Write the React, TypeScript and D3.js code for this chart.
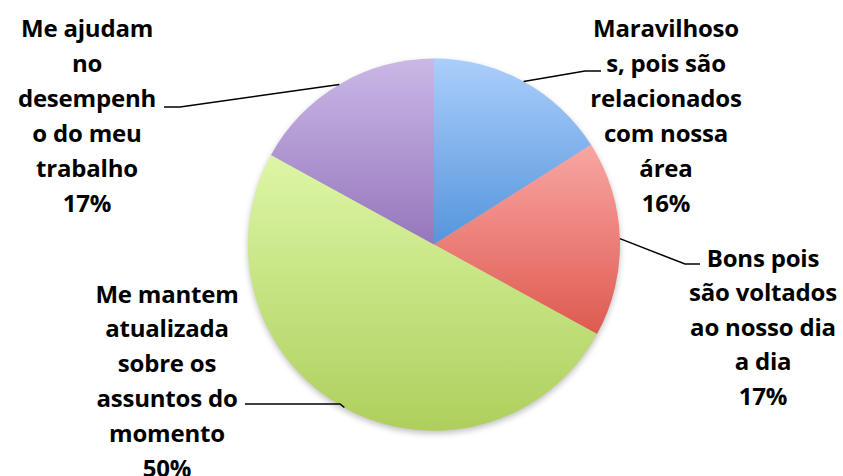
import React from "react";
import * as d3 from "d3";

const categories = [
  "Maravilhosos, pois são relacionados com nossa área",
  "Bons pois são voltados ao nosso dia a dia",
  "Me mantem atualizada sobre os assuntos do momento",
  "Me ajudam no desempenho do meu trabalho",
];
const values = [16, 17, 50, 17];
const labelLines = [
  ["Maravilhoso", "s, pois são", "relacionados", "com nossa", "área", "16%"],
  ["Bons pois", "são voltados", "ao nosso dia", "a dia", "17%"],
  ["Me mantem", "atualizada", "sobre os", "assuntos do", "momento", "50%"],
  ["Me ajudam", "no", "desempenh", "o do meu", "trabalho", "17%"],
];
const colorsTop = ["#abcefb", "#f9a6a3", "#ddf6a6", "#cab8e6"];
const colorsBottom = ["#5595dc", "#de5a50", "#aecf5c", "#9676bd"];

const W = 843;
const H = 476;
const cx = 434;
const cy = 244.5;
const R = 186;

const labelLayout = [
  { x: 666, y: 27, dy: 35, elbowX: 585, elbowY: 71, endX: 601 },
  { x: 763, y: 257, dy: 34.5, elbowX: 685, elbowY: 264, endX: 700 },
  { x: 167, y: 293, dy: 34.8, elbowX: 340, elbowY: 404, endX: 245 },
  { x: 87, y: 27, dy: 35, elbowX: 180, elbowY: 107, endX: 164 },
];

export default function App() {
  const pie = d3.pie<number>().sort(null).value((d) => d)(values);
  const arc = d3.arc<d3.PieArcDatum<number>>().innerRadius(0).outerRadius(R);
  return (
    <svg
      width={W}
      height={H}
      style={{ position: "absolute", left: 0, top: 0, background: "#fff" }}
      fontFamily="'Open Sans', Lato, sans-serif"
      fontWeight="bold"
    >
      <defs>
        {values.map((_, i) => (
          <linearGradient key={i} id={`g${i}`} x1="0" y1="0" x2="0" y2="1">
            <stop offset="0" stopColor={colorsTop[i]} />
            <stop offset="1" stopColor={colorsBottom[i]} />
          </linearGradient>
        ))}
        <filter id="sh" x="-20%" y="-20%" width="140%" height="140%">
          <feGaussianBlur stdDeviation="3" />
        </filter>
      </defs>
      <circle cx={cx} cy={cy + 3} r={R} fill="#000" opacity={0.25} filter="url(#sh)" />
      <g transform={`translate(${cx},${cy})`}>
        {pie.map((d, i) => (
          <path key={categories[i]} d={arc(d) || ""} fill={`url(#g${i})`} />
        ))}
      </g>
      {pie.map((d, i) => {
        const mid = (d.startAngle + d.endAngle) / 2;
        const px = cx + R * Math.sin(mid);
        const py = cy - R * Math.cos(mid);
        const L = labelLayout[i];
        return (
          <g key={"l" + i}>
            <polyline
              points={`${px},${py} ${L.elbowX},${L.elbowY} ${L.endX},${L.elbowY}`}
              fill="none"
              stroke="#000"
              strokeWidth={1.5}
            />
            <text textAnchor="middle" fontSize={24} fill="#000" letterSpacing={-0.2}>
              {labelLines[i].map((t, j) => (
                <tspan key={j} x={L.x} y={L.y + j * L.dy} dominantBaseline="central">
                  {t}
                </tspan>
              ))}
            </text>
          </g>
        );
      })}
    </svg>
  );
}
